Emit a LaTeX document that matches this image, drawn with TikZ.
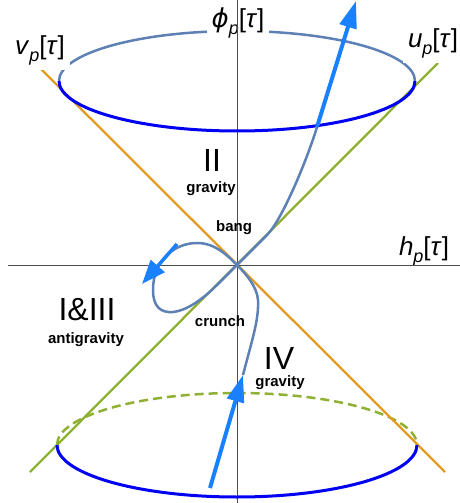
\documentclass[tikz,border=0pt]{standalone}
\usepackage{fontspec}
\setmainfont{Liberation Sans}
\newfontfamily\greekfont{DejaVu Sans}
\usetikzlibrary{arrows.meta}

\definecolor{trajblue}{HTML}{5E81B5}
\definecolor{coneorange}{HTML}{E19C24}
\definecolor{conegreen}{HTML}{8FB032}
\definecolor{flowblue}{rgb}{0.1,0.5,1}
\definecolor{rimblue}{rgb}{0,0,0.95}

\newcommand{\fld}[1]{\textit{#1}\raisebox{-0.25em}{\fontsize{18}{18}\selectfont\itshape p}[\textit{τ}]}

\begin{document}
\begin{tikzpicture}[x=1pt, y=1pt,
  conv/.style={font=\fontsize{26}{26}\selectfont, fill=white, inner sep=5pt, anchor=base},
  region/.style={font=\fontsize{32}{32}\selectfont, inner sep=1pt, text depth=0pt, anchor=base},
  tag/.style={font=\bfseries\fontsize{15}{15}\selectfont, inner sep=1pt, anchor=base},
  flow/.style={flowblue, line width=4pt, -{Triangle[length=27pt,width=17pt]}}
]
\useasboundingbox (-237,-238) rectangle (223,265);

% Back rims
\draw[trajblue, line width=2.5pt] (-178,184) arc[start angle=180, end angle=0, x radius=178, y radius=50];
\draw[conegreen, line width=2.5pt, dash pattern=on 9pt off 5pt] (-180,-180) arc[start angle=180, end angle=0, x radius=180, y radius=52];

% Light cone
\draw[coneorange, line width=2.3pt] (-197,197) -- (208,-207);
\draw[conegreen, line width=2.3pt] (-207,-207) -- (201,202);

% Field labels
\node[conv] (vp) at (-197,210) {\fld{v}};
\node[conv] (up) at (196,217) {\fld{u}};
\node[conv] (phip) at (1,237) {\fld{{\greekfont\itshape ϕ}}};
\node[conv] (hp) at (187,9) {\fld{h}};

% Axes
\draw[black!70, line width=0.8pt] (0,-238) -- (0,265);
\draw[black!70, line width=0.8pt] (-229,0) -- (223,0);

% Front rims
\draw[rimblue, line width=3pt] (-178,184) arc[start angle=180, end angle=360, x radius=178, y radius=50];
\draw[rimblue, line width=3pt] (-180,-180) arc[start angle=180, end angle=360, x radius=180, y radius=52];

% Trajectory
\draw[trajblue, line width=2.5pt] (6,-110)
  .. controls (15,-75) and (22,-55) .. (21,-35)
  .. controls (20,-22) and (10,-10) .. (0,0)
  .. controls (-10,10) and (-22,22) .. (-40,22)
  .. controls (-62,22) and (-84,5) .. (-84,-25)
  .. controls (-84,-42) and (-76,-48) .. (-64,-47)
  .. controls (-52,-46) and (-36,-36) .. (-20,-20)
  -- (30,30)
  .. controls (45,45) and (70,105) .. (80,138);

% Direction arrows
\draw[flow] (80,138) -- (119,264);
\draw[flow, line width=3.5pt, -{Triangle[length=24pt,width=18pt]}] (-60,21) -- (-95,-19);
\draw[flow] (-27,-223) -- (6,-110);

% Regions
\node[region] (two) at (-25,93) {II};
\node[tag] (twog) at (-26,72) {gravity};
\node[tag] (bang) at (-3,33) {bang};
\node[tag] (crunch) at (-17,-61) {crunch};
\node[region] (onethree) at (-150,-56) {I\&III};
\node[tag] (antig) at (-151,-78) {antigravity};
\node[region] (four) at (42,-104) {IV};
\node[tag] (fourg) at (43,-121) {gravity};

\end{tikzpicture}
\end{document}
